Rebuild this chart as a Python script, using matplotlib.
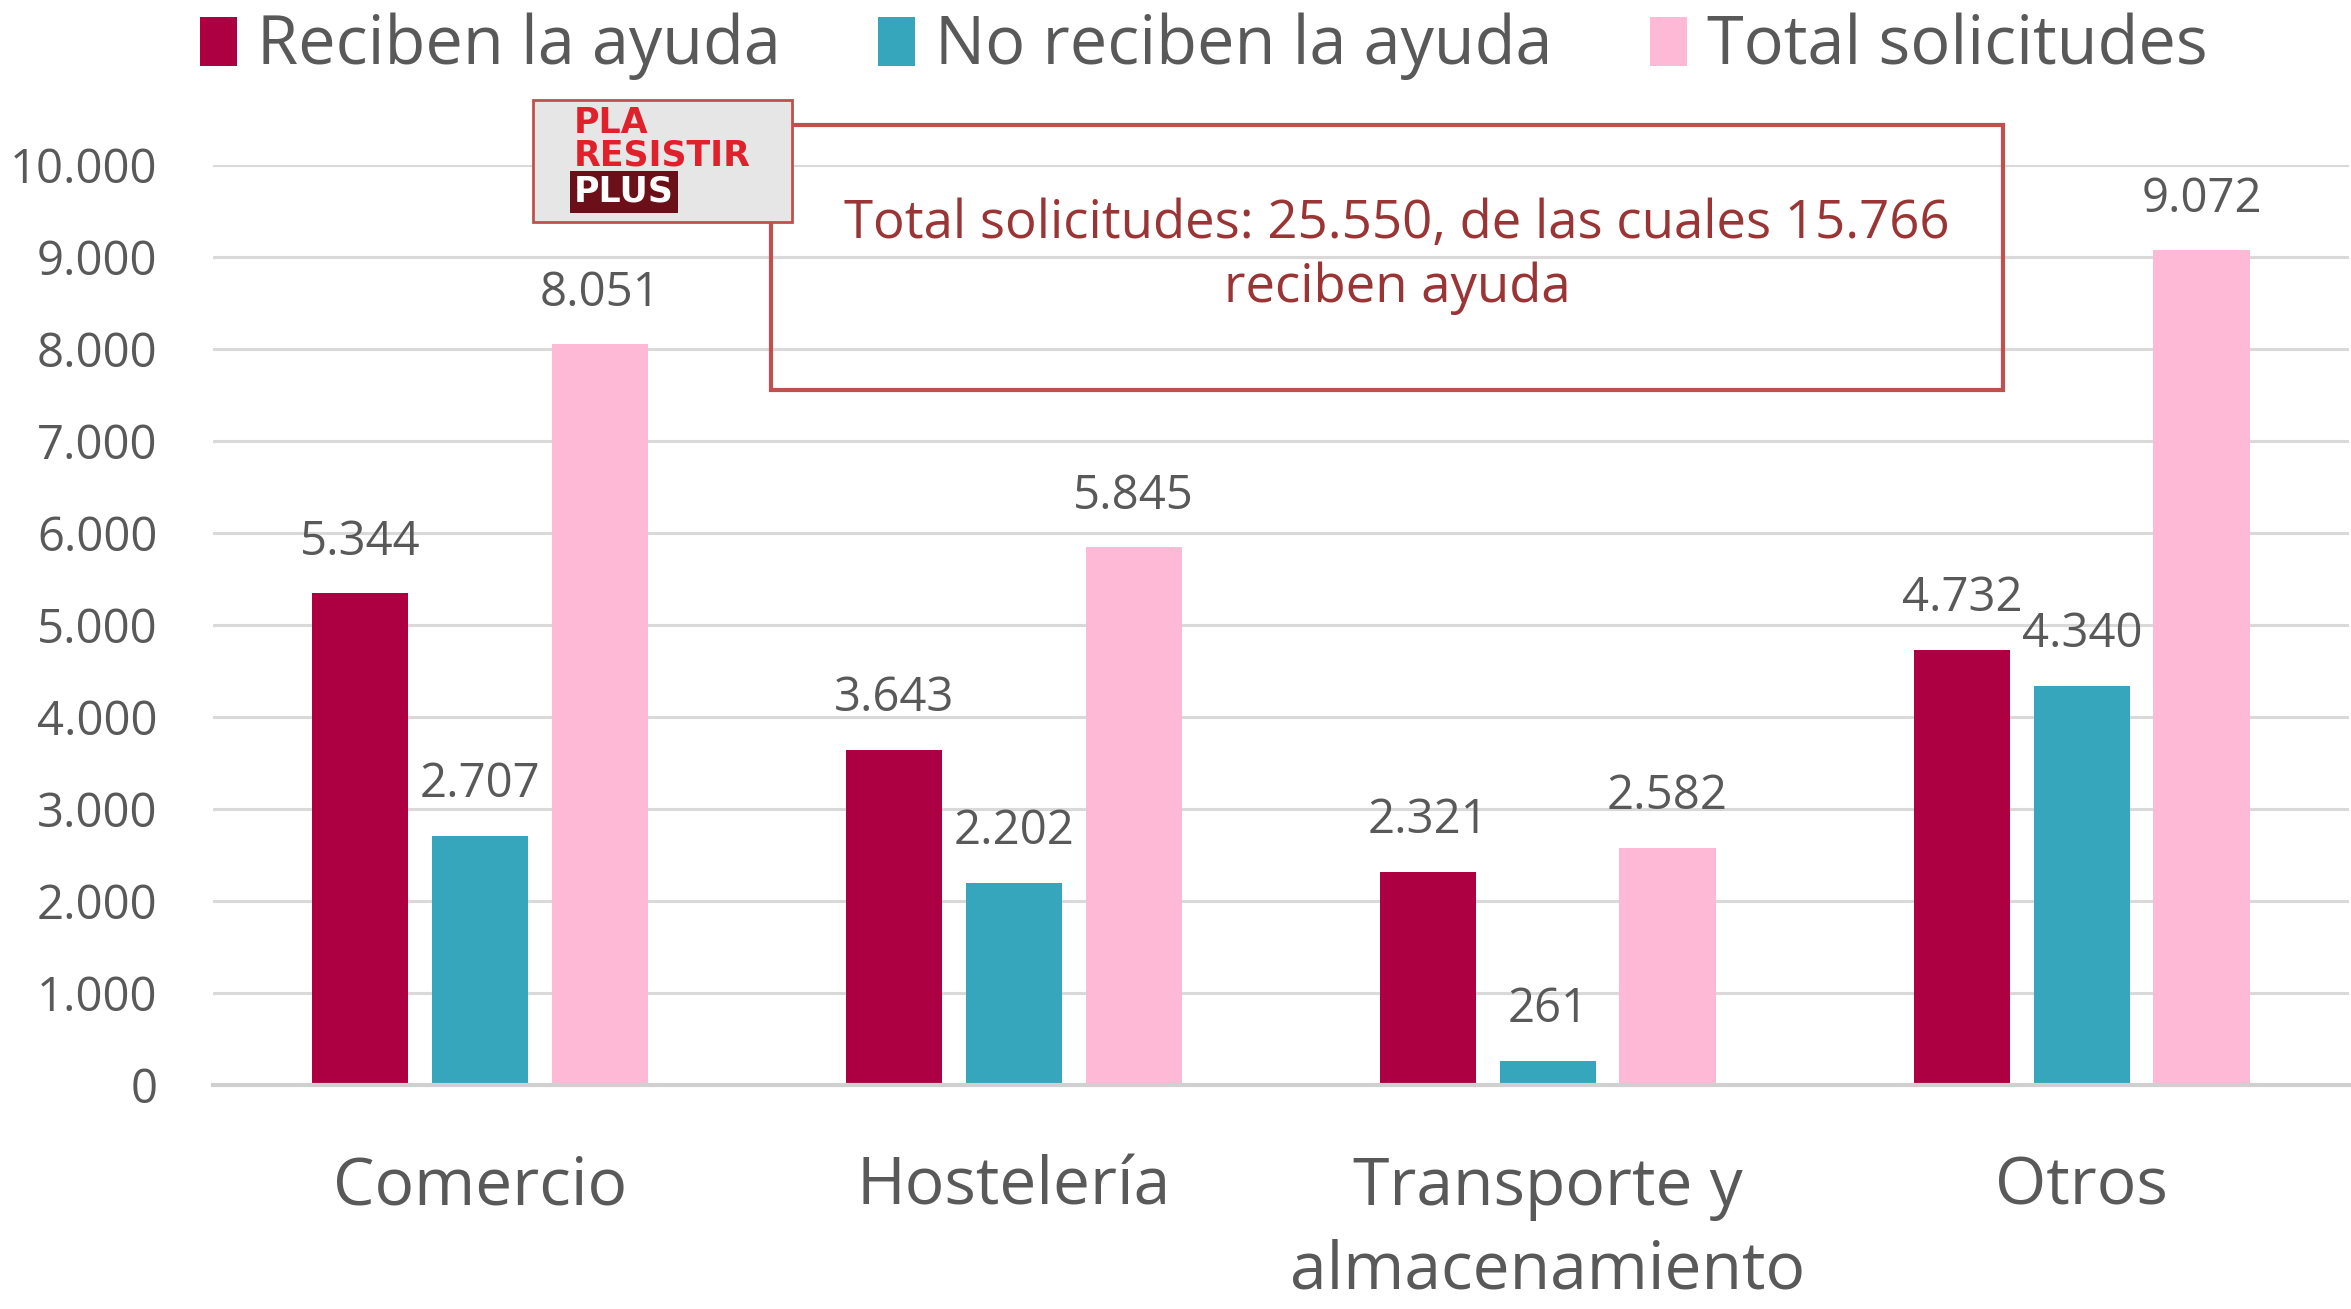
import matplotlib
matplotlib.use("Agg")
import matplotlib.pyplot as plt
from matplotlib.patches import Rectangle
from matplotlib.ticker import FuncFormatter
import numpy as np

plt.rcParams['font.family'] = ['Open Sans', 'DejaVu Sans']

categories = ["Comercio", "Hostelería", "Transporte y\nalmacenamiento", "Otros"]
series_names = ["Reciben la ayuda", "No reciben la ayuda", "Total solicitudes"]
reciben = [5344, 3643, 2321, 4732]
no_reciben = [2707, 2202, 261, 4340]
total = [8051, 5845, 2582, 9072]
yticks = [0, 1000, 2000, 3000, 4000, 5000, 6000, 7000, 8000, 9000, 10000]
note = "Total solicitudes: 25.550, de las cuales 15.766\nreciben ayuda"

colors = ["#AD0042", "#35A6BC", "#FDB9D6"]
text_gray = "#595959"

def fmt(v):
    return f"{int(v):,}".replace(",", ".")

fig = plt.figure(figsize=(23.51, 13.09), dpi=100)
ax = fig.add_axes([0.0906, 0.171, 0.9085, 0.703])

x = np.arange(len(categories))
width = 0.18
offset = 0.224
all_series = [reciben, no_reciben, total]
for i, (vals, c, name) in enumerate(zip(all_series, colors, series_names)):
    bars = ax.bar(x + (i - 1) * offset, vals, width, color=c, label=name, zorder=3)
    for b, v in zip(bars, vals):
        ax.annotate(fmt(v), (b.get_x() + b.get_width() / 2, v),
                    xytext=(0, 20), textcoords="offset points",
                    ha="center", va="bottom", fontsize=34, color=text_gray)

ax.set_xlim(-0.5, 3.5)
ax.set_ylim(0, 10000)
ax.set_yticks(yticks)
ax.yaxis.set_major_formatter(FuncFormatter(lambda v, p: fmt(v)))
ax.set_xticks(x)
ax.set_xticklabels(categories, fontsize=47.5, color=text_gray, linespacing=1.36)
ax.tick_params(axis='y', labelsize=34, colors=text_gray, length=0, pad=40)
ax.tick_params(axis='x', length=0, pad=50)
for lab in ax.get_yticklabels():
    lab.set_color(text_gray)
ax.grid(axis='y', color="#D9D9D9", linewidth=2.2, zorder=0)
ax.set_axisbelow(True)
for s in ["top", "right", "left"]:
    ax.spines[s].set_visible(False)
ax.spines["bottom"].set_color("#D0D0D0")
ax.spines["bottom"].set_linewidth(3)
ax.spines["bottom"].set_zorder(4)

# Legend
leg = fig.legend(loc="upper center", bbox_to_anchor=(0.512, 1.036), ncol=3, frameon=False,
                 fontsize=48, handlelength=0.55, handleheight=0.75, handletextpad=0.3,
                 columnspacing=1.47)
for t in leg.get_texts():
    t.set_color(text_gray)

# Annotation box
box = Rectangle((771 / 2351, 1 - 390 / 1309), (2003 - 771) / 2351, (390 - 125) / 1309,
                transform=fig.transFigure, facecolor="none", edgecolor="#C0504D",
                linewidth=3, zorder=10)
fig.patches.append(box)
fig.text(1397 / 2351, 1 - 256 / 1309, note, ha="center", va="center", fontsize=38,
         color="#9B3535", linespacing=1.25, zorder=11)

# Logo
logo = Rectangle((533 / 2351, 1 - 222 / 1309), (792 - 533) / 2351, (222 - 100) / 1309,
                 transform=fig.transFigure, facecolor="#E6E6E6", edgecolor="#C0504D",
                 linewidth=2, zorder=12)
fig.patches.append(logo)
fig.text(574 / 2351, 1 - 123 / 1309, "PLA", ha="left", va="center", fontsize=25,
         fontweight="heavy", color="#E0202A", family="DejaVu Sans", zorder=13)
fig.text(574 / 2351, 1 - 156 / 1309, "RESISTIR", ha="left", va="center", fontsize=25,
         fontweight="heavy", color="#E0202A", family="DejaVu Sans", zorder=13)
fig.text(574 / 2351, 1 - 192 / 1309, "PLUS", ha="left", va="center", fontsize=25,
         fontweight="heavy", color="white", family="DejaVu Sans", zorder=13,
         bbox=dict(boxstyle="square,pad=0.12", facecolor="#6B1018", edgecolor="none"))

fig.savefig("out.png", dpi=100, facecolor="white")
